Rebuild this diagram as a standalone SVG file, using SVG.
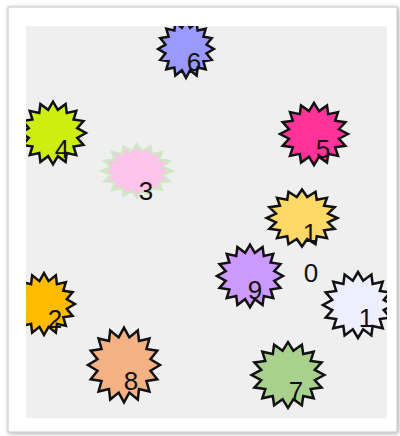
<svg xmlns="http://www.w3.org/2000/svg" xmlns:xlink="http://www.w3.org/1999/xlink" width="400" height="436" viewBox="0 0 400 436">
<style>
.lbl{font-family:"Liberation Sans",Arial,sans-serif;font-size:26px;fill:#111;text-anchor:middle}
.st{stroke:#111;stroke-width:2.5;stroke-linejoin:miter}
</style>
<defs>
<path id="star" vector-effect="non-scaling-stroke" d="M34,0 L25,4.9 L31.4,12.2 L21.2,13.7 L24,22.6 L14.2,20.5 L13,29.5 L5,23.6 L0,32 L-5,23.6 L-13,29.5 L-14.2,20.5 L-24,22.6 L-21.2,13.7 L-31.4,12.2 L-25,4.9 L-34,0 L-25,-4.9 L-31.4,-12.2 L-21.2,-13.7 L-24,-22.6 L-14.2,-20.5 L-13,-29.5 L-5,-23.6 L0,-32 L5,-23.6 L13,-29.5 L14.2,-20.5 L24,-22.6 L21.2,-13.7 L31.4,-12.2 L25,-4.9 Z"/>
<clipPath id="plot"><rect x="26" y="26" width="361" height="392"/></clipPath>
<filter id="shadow" x="-5%" y="-5%" width="110%" height="110%"><feDropShadow dx="1" dy="1" stdDeviation="2" flood-color="#000" flood-opacity="0.35"/></filter>
</defs>
<rect width="400" height="436" fill="#ffffff"/>
<rect x="8" y="7" width="389" height="425" fill="#ffffff" stroke="#c4c4c4" stroke-width="1" filter="url(#shadow)"/>
<rect x="26" y="26" width="361" height="392" fill="#efefef"/>
<g id="connectors"></g>
<g clip-path="url(#plot)">
<g id="node6"><use xlink:href="#star" class="st" fill="#9999ff" transform="translate(186,49) scale(0.82,0.9)"/><text class="lbl" x="194" y="71">6</text></g>
<g id="node4"><use xlink:href="#star" class="st" fill="#ccee11" transform="translate(53,133) scale(0.97,0.98)"/><text class="lbl" x="62" y="158">4</text></g>
<g id="node3"><use xlink:href="#star" fill="#ffc4ec" stroke="#cfe8c4" stroke-width="2.5" transform="translate(137,171) scale(1.03,0.83)"/><text class="lbl" x="146" y="200">3</text></g>
<g id="node5"><use xlink:href="#star" class="st" fill="#ff3399" transform="translate(314,134) scale(1,0.97)"/><text class="lbl" x="323" y="158">5</text></g>
<g id="node1a"><use xlink:href="#star" class="st" fill="#ffd966" transform="translate(302,218) scale(1.04,0.89)"/><text class="lbl" x="310" y="242">1</text></g>
<g id="node0"><text class="lbl" x="311" y="282">0</text></g>
<g id="node9"><use xlink:href="#star" class="st" fill="#cc99ff" transform="translate(250,276) scale(0.97,0.98)"/><text class="lbl" x="255" y="299">9</text></g>
<g id="node1b"><use xlink:href="#star" class="st" fill="#eeeeff" transform="translate(358,305) scale(1.03,1.03)"/><text class="lbl" x="366" y="327">1</text></g>
<g id="node2"><use xlink:href="#star" class="st" fill="#ffbb00" transform="translate(44,304) scale(0.91,0.97)"/><text class="lbl" x="55" y="328">2</text></g>
<g id="node8"><use xlink:href="#star" class="st" fill="#f4b183" transform="translate(124,365) scale(1.06,1.17)"/><text class="lbl" x="131" y="390">8</text></g>
<g id="node7"><use xlink:href="#star" class="st" fill="#a9d18e" transform="translate(288,375) scale(1.07,1.03)"/><text class="lbl" x="296" y="400">7</text></g>
</g>
</svg>
